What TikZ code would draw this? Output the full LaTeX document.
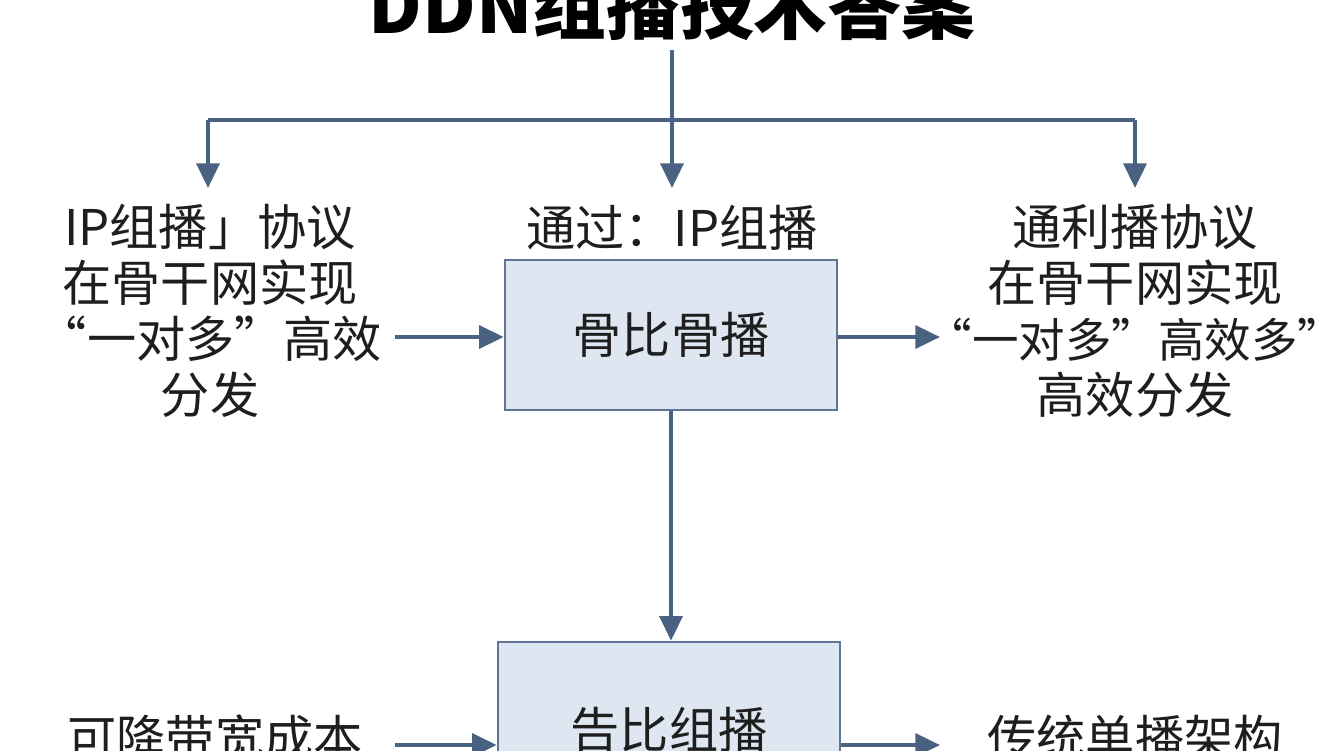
\documentclass[tikz,border=0pt]{standalone}
\usepackage{fontspec}
\setmainfont{Noto Sans CJK SC}
\usetikzlibrary{arrows.meta,positioning}
\definecolor{linec}{HTML}{4A6282}
\definecolor{boxfill}{HTML}{DEE7F1}
\definecolor{boxline}{HTML}{5E7595}
\definecolor{txt}{HTML}{1E1E1E}
\tikzset{
  flow/.style={draw=linec, line width=2.2pt, -{Triangle[length=14pt,width=13pt]}},
  link/.style={draw=linec, line width=2.2pt},
  box/.style={draw=boxline, line width=1.5pt, fill=boxfill, minimum width=332*0.02cm, minimum height=150*0.02cm, font=\fontsize{28}{32}\selectfont, text=txt},
  label/.style={align=center, font=\fontsize{28}{32}\selectfont, text=txt}
}
\begin{document}
\begin{tikzpicture}[x=0.02cm, y=-0.02cm]
    \useasboundingbox (0,0) rectangle (1344,750);
    \clip (0,0) rectangle (1344,750);
    \node[font=\fontsize{42}{44}\selectfont\bfseries, text=black] (title) at (672,5) {DDN组播技术答案};
    \node[box] (b1) at (671,335) {骨比骨播};
    \node[box, minimum width=342*0.02cm, minimum height=170*0.02cm] (b2) at (669,727) {};
    \node[font=\fontsize{28}{32}\selectfont, text=txt] (b2t) at (669,730) {告比组播};
    \node[label] (via) at (672,228) {通过：IP组播};
    \node[label] (lt) at (210,311) {IP组播」协议\\在骨干网实现\\“一对多”高效\\分发};
    \node[label] (rt) at (1135,311) {通利播协议\\在骨干网实现\\{\fontsize{26.5}{32}\selectfont“一对多”高效多”}\\高效分发};
    \node[label] (lb) at (215,738) {可降带宽成本};
    \node[label] (rb) at (1135,738) {传统单播架构};
    % branching
    \coordinate (top) at (672,50);
    \coordinate (jm) at (672,120);
    \coordinate (jl) at (208,120);
    \coordinate (jr) at (1135,120);
    \coordinate (al) at (208,188);
    \coordinate (am) at (672,188);
    \coordinate (ar) at (1135,188);
    \draw[link] (top) -- (jm);
    \draw[link] (jl) -- (jr);
    \draw[flow] (jl) -- (al);
    \draw[flow] (jm) -- (am);
    \draw[flow] (jr) -- (ar);
    % side arrows
    \coordinate (l1) at (395,337);
    \coordinate (r1) at (940,337);
    \coordinate (l2) at (395,745);
    \coordinate (r2) at (940,745);
    \draw[flow] (l1) -- (b1.west |- l1);
    \draw[flow] (b1.east |- r1) -- (r1);
    \draw[flow] (b1.south) -- (b1.south |- b2.north);
    \draw[flow] (l2) -- (b2.west |- l2);
    \draw[flow] (b2.east |- r2) -- (r2);
\end{tikzpicture}
\end{document}
